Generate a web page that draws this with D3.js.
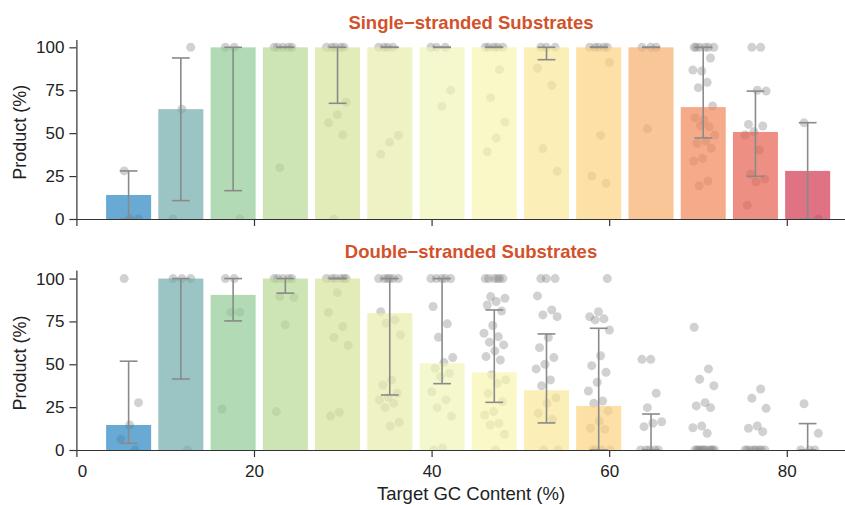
<!DOCTYPE html>
<html>
<head>
<meta charset="utf-8">
<script src="https://cdn.jsdelivr.net/npm/d3@7"></script>
<style>
  body { margin: 0; background: #fff; }
  svg { display: block; font-family: "Liberation Sans", Arial, Helvetica, sans-serif; }
</style>
</head>
<body>
<div id="chart"></div>
<script>
// GC content bins (bin midpoints, %)
const gcContent = [5.88, 11.76, 17.65, 23.53, 29.41, 35.29, 41.18, 47.06, 52.94, 58.82, 64.71, 70.59, 76.47, 82.35];

// bar colours as they look on white (bars are drawn semi-transparent)
const binColors = ['#6aaad4', '#9bc5c4', '#b3dbb5', '#cde5b5', '#e2ecb9', '#eff3c3', '#f5f7cd',
                   '#fbf8c7', '#fbeeb6', '#fce0a6', '#f9c698', '#f5ab8b', '#ee9084', '#e07383'];

const xTicks = [0, 20, 40, 60, 80];
const yTicks = [0, 25, 50, 75, 100];

// single-stranded substrates
const ssBar     = [14, 64, 100, 100, 100, 100, 100, 100, 100, 100, 100, 65.2, 50.7, 28];
const ssErrLow  = [0, 10.7, 16.5, 100, 67.4, 100, 100, 100, 92.8, 100, 100, 47.2, 24.9, 0];
const ssErrHigh = [28, 93.8, 100, 100, 100, 100, 100, 100, 100, 100, 100, 100, 74.5, 56.1];
const ssPoints = [
  [28, 0, 0],
  [100, 64, 0],
  [100, 100, 0],
  [100, 100, 100, 100, 100, 29.9],
  [100, 100, 100, 100, 100, 68, 60.7, 56, 49, 0],
  [100, 100, 100, 100, 48.7, 44.7, 37.7],
  [100, 100, 100, 75, 65.6],
  [100, 100, 100, 100, 100, 87, 70.7, 56.5, 47.2, 39.2],
  [100, 100, 100, 87.8, 77.9, 41, 27.8],
  [100, 100, 100, 100, 100, 91.3, 48.7, 25, 20.8],
  [100, 100, 100, 52.6],
  [100, 100, 100, 100, 100, 100, 93.8, 86.2, 86.8, 79.6, 76.5, 65.8, 57.7, 59, 53.8, 54.3,
   48.9, 45.4, 44, 41.2, 35.3, 33.8, 22.1, 19.4],
  [100, 100, 74.5, 75, 55.1, 54.2, 50.8, 48.9, 40.2, 26.2, 23.3, 21.7, 8],
  [56, 0]
];

// double-stranded substrates
const dsBar     = [14.6, 100, 90.5, 100, 100, 79.8, 50.6, 45.3, 34.8, 25.7, 0, 0, 0, 0];
const dsErrLow  = [3.9, 41.4, 75.3, 91.5, 100, 32.1, 38.7, 27.8, 15.8, 0, 0, null, null, 0];
const dsErrHigh = [51.8, 100, 100, 100, 100, 100, 100, 81.7, 67.7, 71, 21, null, null, 15.4];
const dsPoints = [
  [100, 27.6, 14.6, 6.2, 0],
  [100, 100, 100, 0],
  [100, 100, 80.4, 80.4, 23.9],
  [100, 100, 100, 100, 100, 89.5, 89, 73, 22.4],
  [100, 100, 100, 100, 100, 100, 91.8, 80.2, 72, 65.6, 61.1, 22, 19.8],
  [100, 100, 100, 100, 100, 100, 80.7, 75.9, 74, 67.1, 40.9, 37.9, 33.1, 30.8, 29.2, 27.2, 24.7, 16.2, 14],
  [100, 100, 100, 100, 100, 83.7, 73.6, 65.8, 53.9, 51, 47.7, 44.8, 42.8, 34, 29.2, 24.7, 19.8, 1.2, 0],
  [100, 100, 100, 100, 100, 100, 89.5, 88.5, 86.6, 84.6, 81.1, 72.6, 68.1, 66.1, 62.9, 61.3, 57.8, 54.5,
   52.5, 43.8, 40.9, 38.9, 33.1, 28.2, 22.4, 20.4, 15.6, 14.6, 9.2, 0],
  [100, 100, 100, 89.9, 81.7, 78.8, 77.8, 65.6, 59.7, 53.9, 50, 47.3, 40.9, 37.5, 30.5, 27.2, 21.4, 17.9, 0, 0],
  [100, 80.7, 77.8, 76.5, 75.9, 70, 55, 49.2, 45.3, 39.5, 34.4, 28.6, 27.2, 22.8, 16.9, 12.7, 12.1, 0, 0, 0, 0],
  [52.9, 52.9, 33.1, 24.7, 16.5, 15.6, 13.6, 0, 0, 0, 0, 0],
  [71.6, 47.3, 41.3, 37.5, 27.6, 25.7, 24.7, 14, 13, 9.7, 0, 0, 0, 0, 0, 0, 0, 0, 0, 0, 0],
  [35.6, 30.2, 24.3, 14, 12.7, 10.7, 0, 0, 0, 0, 0, 0, 0, 0],
  [27, 9.7, 0, 0, 0]
];

const width = 845, height = 505;
const barAlpha = 0.7;
const titleColor = '#d2522a';

const svg = d3.select('#chart')
  .append('svg')
  .attr('width', width)
  .attr('height', height);

const x = d3.scaleLinear([0, 86.5], [76.4, 844.5]);

// undo the alpha blend so that the bar looks like the picked colour over white
function baseColor(hex) {
  const c = d3.rgb(hex), k = 255 * (1 - barAlpha);
  return d3.rgb((c.r - k) / barAlpha, (c.g - k) / barAlpha, (c.b - k) / barAlpha).formatHex();
}

// deterministic spread of points around the bin centre (in GC units)
function spread(i) {
  return ((i * 0.6180339 + 0.31) % 1 - 0.5) * 2.6;
}

function drawPanel(id, top, bottom, yMax, title, titleY, bars, errLow, errHigh, points, showXLabels) {
  const y = d3.scaleLinear([0, yMax], [bottom, top]);
  const g = svg.append('g');

  svg.append('clipPath').attr('id', 'clip-' + id)
    .append('rect')
    .attr('x', x.range()[0]).attr('y', top)
    .attr('width', x.range()[1] - x.range()[0]).attr('height', bottom - top);

  // jittered observations (behind the bars)
  const pts = [];
  points.forEach((vals, k) => vals.forEach((v, i) => pts.push({ gc: gcContent[k] + spread(i + k), v })));
  g.append('g')
    .attr('clip-path', `url(#clip-${id})`)
    .selectAll('circle')
    .data(pts)
    .join('circle')
    .attr('cx', d => x(d.gc))
    .attr('cy', d => y(d.v))
    .attr('r', 4.5)
    .attr('fill', '#7f7f7f')
    .attr('fill-opacity', 0.36);

  // bars
  const bw = 5.07;
  g.append('g')
    .selectAll('rect')
    .data(gcContent.map((gc, i) => ({ gc, v: bars[i], c: binColors[i] })))
    .join('rect')
    .attr('x', d => x(d.gc - bw / 2))
    .attr('width', d => x(bw) - x(0))
    .attr('y', d => y(d.v))
    .attr('height', d => y(0) - y(d.v))
    .attr('fill', d => baseColor(d.c))
    .attr('fill-opacity', barAlpha);

  // error bars
  const eb = gcContent.map((gc, i) => ({ gc, lo: errLow[i], hi: errHigh[i] })).filter(d => d.lo !== null);
  const cap = 1;
  const err = g.append('g')
    .attr('stroke', '#8a8a8a')
    .attr('stroke-width', 1.6)
    .selectAll('g')
    .data(eb)
    .join('g');
  err.append('line')
    .attr('x1', d => x(d.gc)).attr('x2', d => x(d.gc))
    .attr('y1', d => y(d.lo)).attr('y2', d => y(d.hi));
  err.append('line')
    .attr('x1', d => x(d.gc - cap)).attr('x2', d => x(d.gc + cap))
    .attr('y1', d => y(d.hi)).attr('y2', d => y(d.hi));
  err.append('line')
    .attr('x1', d => x(d.gc - cap)).attr('x2', d => x(d.gc + cap))
    .attr('y1', d => y(d.lo)).attr('y2', d => y(d.lo));

  // axes
  const yAxis = g.append('g')
    .attr('transform', `translate(${x.range()[0]},0)`)
    .call(d3.axisLeft(y).tickValues(yTicks).tickSize(7).tickPadding(5).tickSizeOuter(0));
  const xAxis = g.append('g')
    .attr('transform', `translate(0,${bottom})`)
    .call(d3.axisBottom(x).tickValues(xTicks).tickSize(7).tickPadding(8).tickSizeOuter(0)
      .tickFormat(d => showXLabels ? d : ''));

  [xAxis, yAxis].forEach(a => {
    a.select('.domain').attr('stroke', '#333').attr('stroke-width', 1.2);
    a.selectAll('.tick line').attr('stroke', '#333').attr('stroke-width', 1.2);
    a.selectAll('.tick text').attr('fill', '#222').attr('font-size', 17);
  });
  // the 0 label sits just right of the y axis in the original
  xAxis.selectAll('.tick text').filter(d => d === 0).attr('dx', 5.5);

  // y title
  g.append('text')
    .attr('transform', `translate(19.5,${(top + bottom) / 2 + 3}) rotate(-90)`)
    .attr('text-anchor', 'middle')
    .attr('dy', '0.35em')
    .attr('font-size', 18)
    .attr('fill', '#222')
    .text('Product (%)');

  // panel title
  g.append('text')
    .attr('x', 471)
    .attr('y', titleY)
    .attr('text-anchor', 'middle')
    .attr('font-size', 18.5)
    .attr('font-weight', 'bold')
    .attr('fill', titleColor)
    .text(title);
}

drawPanel('ss', 39.6, 219, 104.5, 'Single\u2212stranded Substrates', 28.5, ssBar, ssErrLow, ssErrHigh, ssPoints, false);
drawPanel('ds', 270, 450, 105, 'Double\u2212stranded Substrates', 258, dsBar, dsErrLow, dsErrHigh, dsPoints, true);

svg.append('text')
  .attr('x', 471)
  .attr('y', 500)
  .attr('text-anchor', 'middle')
  .attr('font-size', 18.5)
  .attr('fill', '#222')
  .text('Target GC Content (%)');
</script>
</body>
</html>
